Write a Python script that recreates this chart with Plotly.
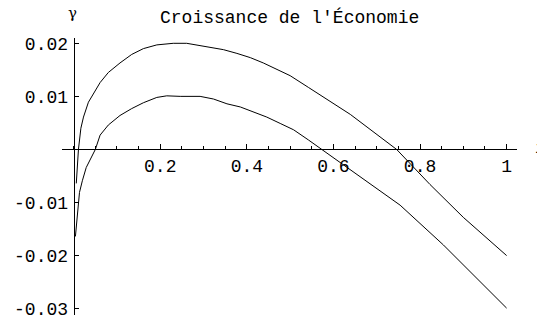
import plotly.graph_objects as go

# values
x_upper = [0.006, 0.011, 0.0166, 0.0226, 0.034, 0.046, 0.061, 0.080, 0.107, 0.134, 0.161, 0.192,
           0.230, 0.261, 0.308, 0.346, 0.377, 0.408, 0.438, 0.469, 0.500, 0.542, 0.639, 0.746,
           0.823, 0.900, 1.0]
y_upper = [-0.0064, 0.0, 0.0040, 0.0061, 0.0089, 0.0105, 0.0126, 0.0145, 0.0163, 0.0179, 0.0190, 0.0197,
           0.0200, 0.0200, 0.0194, 0.0188, 0.0181, 0.0173, 0.0163, 0.0151, 0.0139, 0.0117, 0.0066, 0.0,
           -0.0066, -0.0128, -0.0200]

x_lower = [0.004, 0.0104, 0.0134, 0.020, 0.029, 0.050, 0.061, 0.080, 0.107, 0.134, 0.161, 0.192,
           0.215, 0.246, 0.292, 0.323, 0.354, 0.385, 0.415, 0.446, 0.477, 0.508, 0.542, 0.573,
           0.660, 0.754, 0.854, 1.0]
y_lower = [-0.0164, -0.0099, -0.0081, -0.0059, -0.0034, 0.0, 0.0027, 0.0046, 0.0064, 0.0077, 0.0088, 0.0098,
           0.0101, 0.0100, 0.0100, 0.0095, 0.0086, 0.0080, 0.0071, 0.0061, 0.0049, 0.0037, 0.0018, 0.0,
           -0.0052, -0.0105, -0.0180, -0.0299]

x_ticks = [0.2, 0.4, 0.6, 0.8, 1.0]
x_labels = ["0.2", "0.4", "0.6", "0.8", "1"]
y_ticks = [-0.03, -0.02, -0.01, 0.01, 0.02]
y_labels = ["-0.03", "-0.02", "-0.01", "0.01", "0.02"]

title_text = "Croissance de l'Économie"
y_name = "γ"
x_name = "i"

x_range = [-0.027, 1.024]
y_range = [-0.0312, 0.021]

mono = "Liberation Mono"

fig = go.Figure()
for xs, ys in [(x_upper, y_upper), (x_lower, y_lower)]:
    fig.add_trace(go.Scatter(x=xs, y=ys, mode="lines", line=dict(color="black", width=1),
                             showlegend=False, hoverinfo="skip"))

# axes cross at the origin, like the old Mathematica plot
x_pos = (0 - y_range[0]) / (y_range[1] - y_range[0])
y_pos = (0 - x_range[0]) / (x_range[1] - x_range[0])

fig.update_layout(
    width=537, height=322,
    margin=dict(l=62, r=20, t=38, b=2),
    paper_bgcolor="white", plot_bgcolor="white",
    font=dict(family=mono, size=18, color="black"),
    xaxis=dict(range=x_range, anchor="free", position=x_pos, showgrid=False, zeroline=False,
               showline=True, linecolor="black", linewidth=1,
               tickmode="array", tickvals=x_ticks, ticktext=x_labels,
               ticks="inside", ticklen=5, tickcolor="black", tickwidth=1,
               minor=dict(dtick=0.05, tick0=0, ticks="inside", ticklen=3, tickcolor="black"),
               ticklabelstandoff=0, ticklabeloverflow="allow"),
    yaxis=dict(range=y_range, anchor="free", position=y_pos, showgrid=False, zeroline=False,
               showline=True, linecolor="black", linewidth=1,
               tickmode="array", tickvals=y_ticks, ticktext=y_labels,
               ticks="inside", ticklen=4, tickcolor="black", tickwidth=1,
               ticklabelstandoff=2, ticklabeloverflow="allow"),
    annotations=[
        dict(text=title_text, xref="paper", yref="paper", x=0.501, y=1.0745,
             xanchor="center", yanchor="middle", showarrow=False, font=dict(family=mono, size=18)),
        dict(text=y_name, xref="paper", yref="paper", x=0.022, y=1.13,
             xanchor="center", yanchor="top", showarrow=False,
             font=dict(family="DejaVu Serif", size=15)),
        dict(text=x_name, xref="paper", yref="paper", x=1.035, y=x_pos,
             xanchor="left", yanchor="middle", showarrow=False, font=dict(family=mono, size=16)),
    ],
)

# drop the page's default body margin so the figure sits at the window's corner
fig.write_html("out.html", config={"displayModeBar": False},
               post_script="document.body.style.margin='0';")
